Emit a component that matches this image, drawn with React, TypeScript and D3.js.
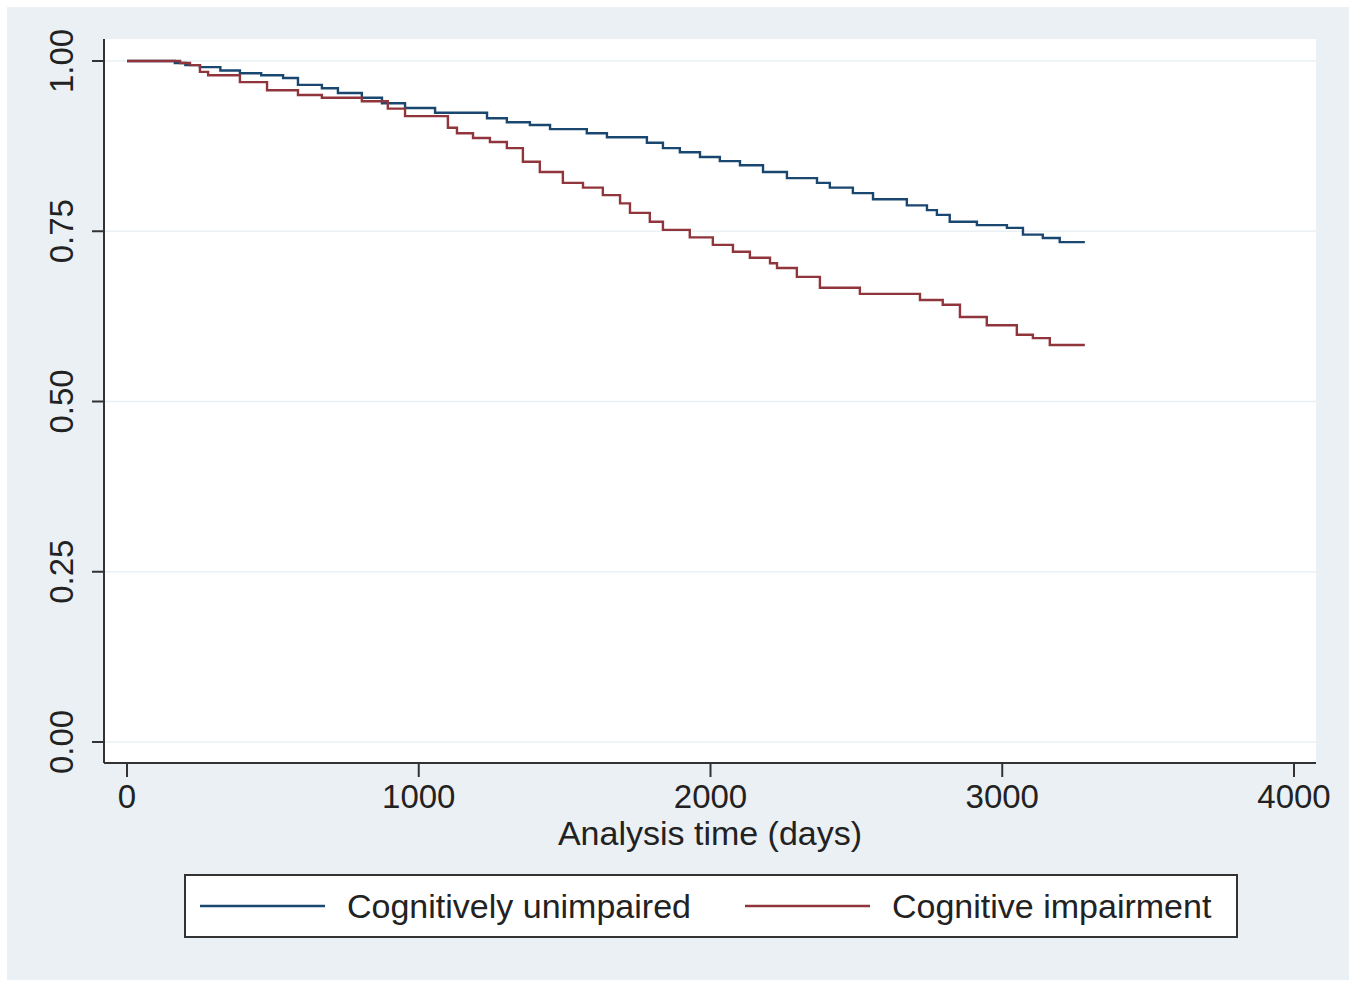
import * as React from 'react';
import * as d3 from 'd3';

// Kaplan-Meier step estimates (time in days, survival)
const unimpairedTimes = [0, 164, 200, 250, 320, 387, 460, 535, 586, 668, 723, 805, 874, 953, 1056, 1234, 1302, 1381, 1450, 1576, 1645, 1782, 1837, 1895, 1964, 2032, 2101, 2180, 2262, 2365, 2409, 2488, 2557, 2673, 2742, 2776, 2820, 2913, 3016, 3071, 3139, 3197];
const unimpairedSurv = [1.0, 0.997, 0.994, 0.991, 0.986, 0.982, 0.979, 0.975, 0.965, 0.96, 0.953, 0.946, 0.938, 0.931, 0.924, 0.916, 0.91, 0.906, 0.9, 0.894, 0.888, 0.88, 0.872, 0.866, 0.859, 0.853, 0.847, 0.837, 0.828, 0.821, 0.814, 0.806, 0.797, 0.788, 0.781, 0.774, 0.764, 0.759, 0.755, 0.745, 0.74, 0.734];

const impairedTimes = [0, 182, 216, 250, 278, 387, 480, 586, 668, 805, 894, 953, 1100, 1131, 1186, 1244, 1302, 1357, 1415, 1494, 1563, 1631, 1690, 1724, 1792, 1837, 1929, 2008, 2077, 2135, 2204, 2228, 2296, 2375, 2512, 2718, 2796, 2855, 2947, 3050, 3105, 3163];
const impairedSurv = [1.0, 0.997, 0.994, 0.984, 0.979, 0.969, 0.957, 0.95, 0.946, 0.941, 0.93, 0.919, 0.902, 0.894, 0.887, 0.881, 0.872, 0.852, 0.837, 0.821, 0.814, 0.803, 0.791, 0.777, 0.764, 0.752, 0.741, 0.73, 0.72, 0.711, 0.703, 0.696, 0.683, 0.667, 0.658, 0.649, 0.642, 0.624, 0.612, 0.598, 0.593, 0.583];

const followUpEnd = 3283;

const xTicks = [0, 1000, 2000, 3000, 4000];
const yTicks = [0, 0.25, 0.5, 0.75, 1];

const groups = ['Cognitively unimpaired', 'Cognitive impairment'];
const groupColors = ['#1a476f', '#90353b'];

const font = '"Liberation Sans", Arial, sans-serif';

export default function App() {
  const width = 1357;
  const height = 982;
  const plot = {left: 104, right: 1316, top: 39, bottom: 763};

  const x = d3.scaleLinear().domain([0, 4000]).range([127, 1294]);
  const y = d3.scaleLinear().domain([0, 1]).range([742, 61]);

  const line = d3.line<[number, number]>()
    .x(d => x(d[0]))
    .y(d => y(d[1]))
    .curve(d3.curveStepAfter);

  const toPoints = (ts: number[], ss: number[]): [number, number][] => {
    const pts = ts.map((t, i) => [t, ss[i]] as [number, number]);
    pts.push([followUpEnd, ss[ss.length - 1]]);
    return pts;
  };

  const series = [
    toPoints(unimpairedTimes, unimpairedSurv),
    toPoints(impairedTimes, impairedSurv),
  ];

  return (
    <svg width={width} height={height} style={{position: 'absolute', left: 0, top: 0}} fontFamily={font}>
      <rect x={0} y={0} width={width} height={height} fill="#ffffff" />
      <rect x={7} y={7} width={1342} height={973} fill="#eaf0f3" />
      <rect x={plot.left} y={plot.top} width={plot.right - plot.left} height={plot.bottom - plot.top} fill="#ffffff" />

      {yTicks.map(t => (
        <line key={'g' + t} x1={plot.left} x2={plot.right} y1={y(t)} y2={y(t)} stroke="#eaf0f3" strokeWidth={1.5} />
      ))}

      {series.map((pts, i) => (
        <path key={i} d={line(pts) || ''} fill="none" stroke={groupColors[i]} strokeWidth={2.4} />
      ))}

      {/* y axis */}
      <line x1={plot.left} x2={plot.left} y1={plot.top} y2={plot.bottom} stroke="#333" strokeWidth={2} />
      {yTicks.map(t => (
        <g key={'y' + t}>
          <line x1={92} x2={plot.left} y1={y(t)} y2={y(t)} stroke="#333" strokeWidth={2} />
          <text transform={`translate(73,${y(t)}) rotate(-90)`} textAnchor="middle" fontSize={33} fill="#222">
            {d3.format('.2f')(t)}
          </text>
        </g>
      ))}

      {/* x axis */}
      <line x1={plot.left} x2={plot.right} y1={plot.bottom} y2={plot.bottom} stroke="#333" strokeWidth={2} />
      {xTicks.map(t => (
        <g key={'x' + t}>
          <line x1={x(t)} x2={x(t)} y1={plot.bottom} y2={777} stroke="#333" strokeWidth={2} />
          <text x={x(t)} y={808} textAnchor="middle" fontSize={33} fill="#222">{t}</text>
        </g>
      ))}
      <text x={710} y={845} textAnchor="middle" fontSize={34} fill="#222">Analysis time (days)</text>

      {/* legend */}
      <rect x={185} y={875} width={1052} height={62} fill="#ffffff" stroke="#333" strokeWidth={2} />
      {groups.map((g, i) => {
        const lx = i === 0 ? 200 : 745;
        return (
          <g key={g}>
            <line x1={lx} x2={lx + 125} y1={906} y2={906} stroke={groupColors[i]} strokeWidth={2.4} />
            <text x={lx + 147} y={918} fontSize={34} fill="#222">{g}</text>
          </g>
        );
      })}
    </svg>
  );
}
